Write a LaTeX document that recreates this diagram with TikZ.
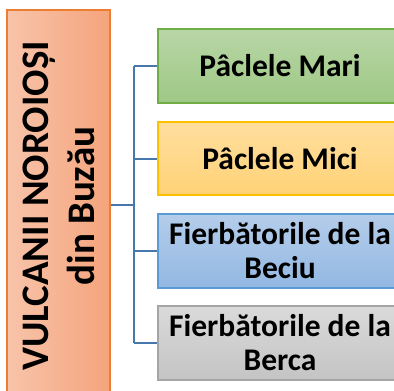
\documentclass[tikz,border=0pt]{standalone}
\usepackage{fontspec}
\setmainfont{Carlito}
\begin{document}
\begin{tikzpicture}[x=1pt,y=-1pt,
  sub/.style={draw, line width=1.3pt, minimum width=244pt, minimum height=74pt,
    inner sep=0pt, align=center, font=\fontsize{31.5}{34}\selectfont\bfseries, text=black},
  conn/.style={draw=connblue, line width=2pt}]
\definecolor{connblue}{RGB}{70,120,172}
\definecolor{orborder}{RGB}{237,125,49}
\definecolor{orleft}{RGB}{248,196,170}
\definecolor{orright}{RGB}{244,164,124}
\definecolor{gborder}{RGB}{112,173,71}
\definecolor{gtop}{RGB}{184,214,166}
\definecolor{gbot}{RGB}{158,200,132}
\definecolor{yborder}{RGB}{255,192,0}
\definecolor{ytop}{RGB}{255,222,158}
\definecolor{ybot}{RGB}{255,210,118}
\definecolor{bborder}{RGB}{91,155,213}
\definecolor{btop}{RGB}{180,205,234}
\definecolor{bbot}{RGB}{147,184,227}
\definecolor{kborder}{RGB}{165,165,165}
\definecolor{ktop}{RGB}{218,218,218}
\definecolor{kbot}{RGB}{196,196,196}
\useasboundingbox (0,0) rectangle (394,391);
\begin{scope}
\clip (0,0) rectangle (394,391);
\node[draw=orborder, line width=1.3pt, left color=orleft, right color=orright,
  minimum width=103pt, minimum height=390pt, inner sep=0pt] (left) at (58.5,205) {};
\node[rotate=90, align=center, inner sep=0pt,
  font=\fontsize{39}{46}\selectfont\bfseries] (ltext) at (59,206) {VULCANII NOROIOȘI\\din Buzău};
\node[sub, draw=gborder, top color=gtop, bottom color=gbot] (g) at (280,66) {Pâclele Mari};
\node[sub, draw=yborder, top color=ytop, bottom color=ybot, minimum height=73pt] (y) at (280,158.5) {Pâclele Mici};
\node[sub, draw=bborder, top color=btop, bottom color=bbot] (b) at (280,251) {Fierbătorile de la\\Beciu};
\node[sub, draw=kborder, top color=ktop, bottom color=kbot] (k) at (280,343) {Fierbătorile de la\\Berca};
\coordinate (j) at (134,205);
\draw[conn] (left.east) -- (j);
\draw[conn] (j |- g.west) -- (j |- k.west);
\draw[conn] (j |- g.west) -- (g.west);
\draw[conn] (j |- y.west) -- (y.west);
\draw[conn] (j |- b.west) -- (b.west);
\draw[conn] (j |- k.west) -- (k.west);
\end{scope}
\end{tikzpicture}
\end{document}
